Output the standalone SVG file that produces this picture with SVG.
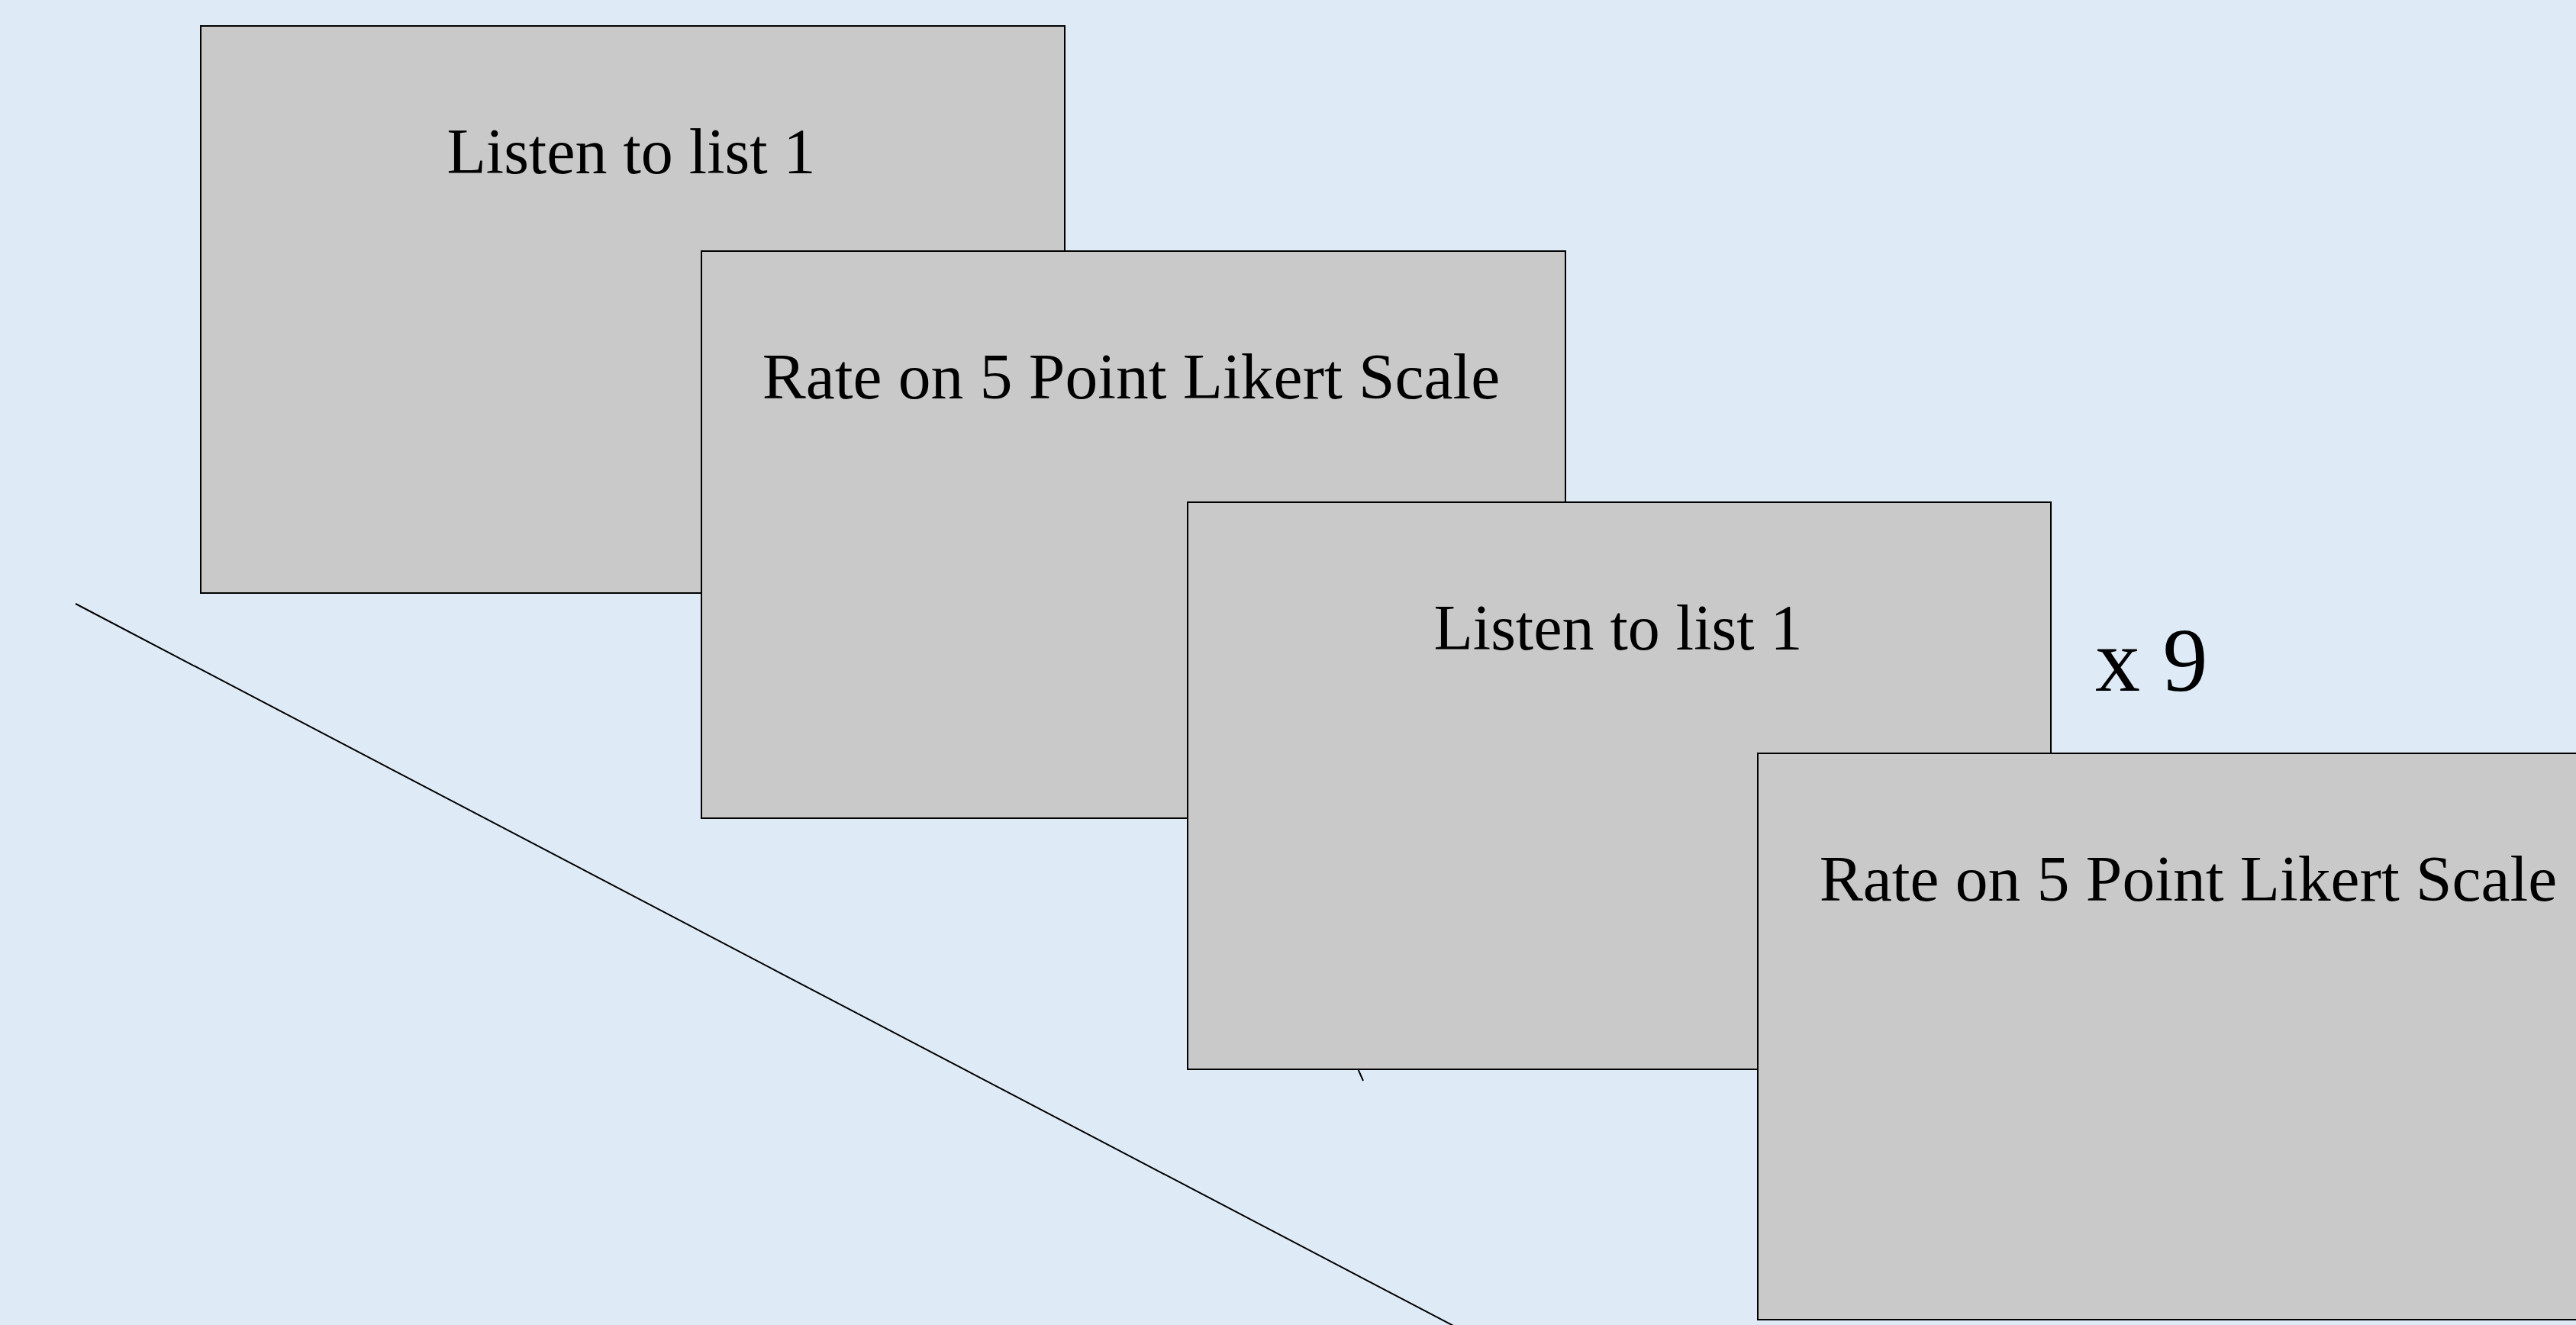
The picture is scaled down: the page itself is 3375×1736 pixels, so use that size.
<svg xmlns="http://www.w3.org/2000/svg" width="3375" height="1736" viewBox="0 0 3375 1736">
<style>
.box{fill:#c9c9c9;stroke:#000;stroke-width:2}
.lbl{font-family:"Liberation Serif","Times New Roman",serif;font-size:84px;fill:#000;text-anchor:middle}
.rate{font-size:85.5px}
.big{font-family:"Liberation Serif","Times New Roman",serif;font-size:118px;fill:#000}
.ln{stroke:#000;stroke-width:2;fill:none}
</style>
<rect x="0" y="0" width="3375" height="1736" fill="#deeaf6"/>
<g id="connectors">
<line class="ln" x1="99" y1="791" x2="1910" y2="1740"/>
<line class="ln" x1="1770" y1="1380" x2="1786" y2="1416" stroke-width="2.5"/>
</g>
<g id="node1">
<rect class="box" x="263" y="34" width="1132" height="743"/>
<text class="lbl" x="827" y="227">Listen to list 1</text>
</g>
<g id="node2">
<rect class="box" x="919" y="329" width="1132" height="743"/>
<text class="lbl rate" x="1482" y="522">Rate on 5 Point Likert Scale</text>
</g>
<g id="node3">
<rect class="box" x="1556" y="658" width="1131" height="743"/>
<text class="lbl" x="2120" y="851">Listen to list 1</text>
</g>
<g id="node4">
<rect class="box" x="2303" y="987" width="1132" height="742"/>
<text class="lbl rate" x="2867" y="1180">Rate on 5 Point Likert Scale</text>
</g>
<g id="label-x9">
<text class="big" x="2745" y="905">x 9</text>
</g>
</svg>
